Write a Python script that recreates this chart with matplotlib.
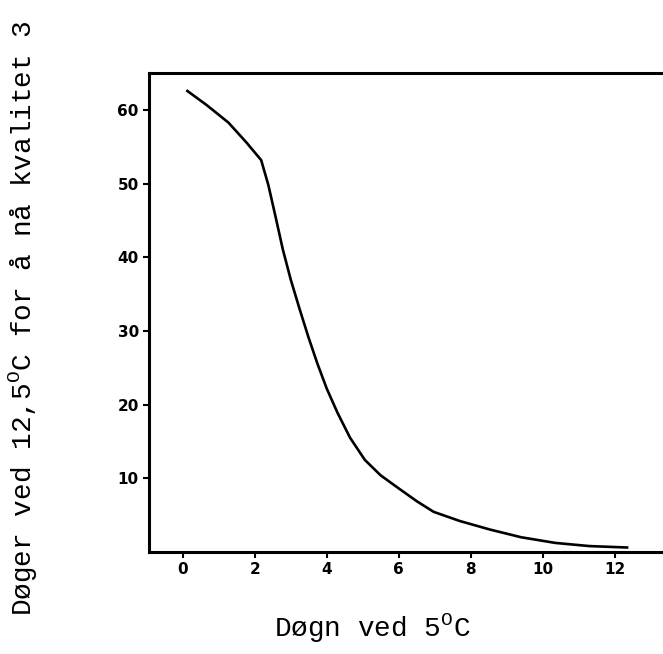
import matplotlib
matplotlib.use("Agg")
import matplotlib.pyplot as plt

# values
days_5c = [0.1, 0.66, 1.27, 1.77, 2.18, 2.38, 2.58, 2.78, 3.0, 3.24, 3.49, 3.74, 4.0, 4.3, 4.65, 5.06, 5.5, 6.01, 6.5, 6.97, 7.7, 8.54, 9.4, 10.35, 11.3, 12.38]
days_12c = [62.7, 60.7, 58.3, 55.6, 53.2, 49.8, 45.5, 41.1, 37.0, 33.1, 29.2, 25.6, 22.2, 18.9, 15.5, 12.5, 10.4, 8.6, 6.9, 5.45, 4.2, 3.04, 2.0, 1.23, 0.8, 0.6]
xticks = [0, 2, 4, 6, 8, 10, 12]
yticks = [10, 20, 30, 40, 50, 60]

plt.rcParams['mathtext.fontset'] = 'custom'
plt.rcParams['mathtext.rm'] = 'Liberation Mono'

fig = plt.figure(figsize=(6.63, 6.54), dpi=100)
ax = fig.add_axes([0.224, 0.156, 0.79, 0.732])

ax.plot(days_5c, days_12c, color='black', lw=1.9, solid_capstyle='butt', solid_joinstyle='round')

ax.set_xlim(-0.95, 13.6)
ax.set_ylim(0, 65)
ax.set_xticks(xticks)
ax.set_yticks(yticks)

tickfont = dict(family=['Liberation Sans Narrow', 'DejaVu Sans'], weight='bold', size=11)
ax.set_xticklabels([str(v) for v in xticks], **tickfont)
ax.set_yticklabels([str(v) for v in yticks], **tickfont)
ax.tick_params(direction='out', length=4, width=1.5, pad=3)

for s in ['left', 'bottom', 'top']:
    ax.spines[s].set_linewidth(2.2)
ax.spines['right'].set_visible(False)

labelfont = dict(family='Liberation Mono', size=20)
fig.text(0.561, 0.04, r'Døgn ved 5$^{\mathrm{O}}$C', ha='center', va='center', **labelfont)
fig.text(0.035, 0.513, r'Døger ved 12,5$^{\mathrm{O}}$C for å nå kvalitet 3',
         ha='center', va='center', rotation=90, **labelfont)

fig.savefig('out.png', dpi=100)
